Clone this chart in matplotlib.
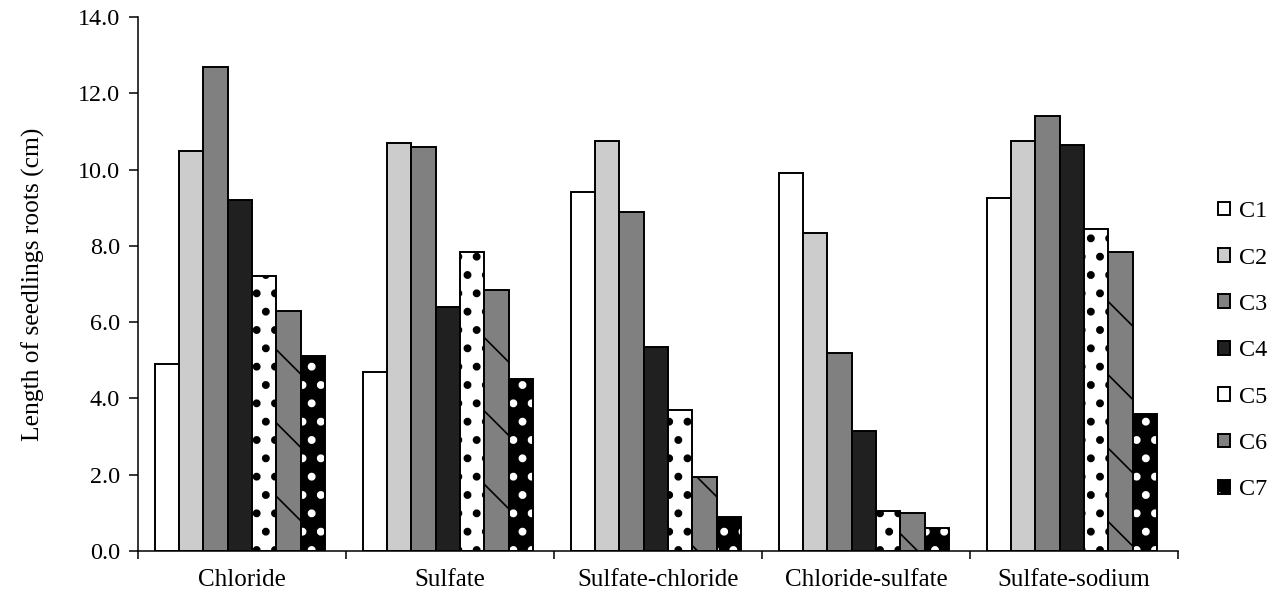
import matplotlib.pyplot as plt
import numpy as np
from matplotlib.patches import Patch

# root length values
groups = ['Chloride', 'Sulfate', 'Sulfate-chloride', 'Chloride-sulfate', 'Sulfate-sodium']
series = ['C1', 'C2', 'C3', 'C4', 'C5', 'C6', 'C7']
c1 = [4.9, 4.7, 9.4, 9.9, 9.25]
c2 = [10.5, 10.7, 10.75, 8.35, 10.75]
c3 = [12.7, 10.6, 8.9, 5.2, 11.4]
c4 = [9.2, 6.4, 5.35, 3.15, 10.65]
c5 = [7.2, 7.85, 3.7, 1.05, 8.45]
c6 = [6.3, 6.85, 1.95, 1.0, 7.85]
c7 = [5.1, 4.5, 0.9, 0.6, 3.6]
values = [c1, c2, c3, c4, c5, c6, c7]

# (face, hatch colour, hatch)
styles = [('white', 'black', ''), ('#cccccc', 'black', ''), ('#808080', 'black', ''),
          ('#202020', 'black', ''), ('white', 'black', '..'), ('#808080', 'black', '\\'),
          ('black', 'white', '..')]

# hatch spacing follows dpi, so dpi is picked to get the sparse patterns
dpi = 220
s = 200 / dpi

plt.rcParams['font.family'] = ['Liberation Serif', 'DejaVu Serif']
plt.rcParams['hatch.linewidth'] = 0.6 * s

fig = plt.figure(figsize=(1274 / dpi, 601 / dpi), dpi=dpi)
ax = fig.add_axes([138 / 1274, 1 - 551 / 601, 1040 / 1274, 534 / 601])


def dot_size(p, h):
    # bigger dots for the dotted series, if this matplotlib allows it
    if h == '..' and hasattr(p, 'set_hatch_linewidth'):
        p.set_hatch_linewidth(1.5 * s)


x = np.arange(len(groups))
w = 0.1168
lw = 0.7 * s
handles = []
for k, (vals, (fc, hc, h)) in enumerate(zip(values, styles)):
    pos = x + (k - 3) * w - 0.01
    bars = ax.bar(pos, vals, w, color=fc, edgecolor=hc, hatch=h, linewidth=0)
    for b in bars:
        dot_size(b, h)
    ax.bar(pos, vals, w, fill=False, edgecolor='black', linewidth=lw)
    hp = Patch(facecolor=fc, edgecolor=hc, hatch=h, linewidth=0)
    dot_size(hp, h)
    handles.append((hp, Patch(fill=False, edgecolor='black', linewidth=lw)))

ax.set_xlim(-0.5, 4.5)
ax.set_ylim(0, 14)
ax.set_yticks(np.arange(0, 14.1, 2))
ax.set_yticklabels([f'{v:.1f}' for v in np.arange(0, 14.1, 2)], fontsize=8.7 * s)
ax.set_xticks(x)
ax.set_xticklabels(groups, fontsize=9 * s)
ax.set_xticks(np.arange(-0.5, 4.6, 1), minor=True)
ax.tick_params(axis='x', which='major', length=0, pad=6.5 * s)
ax.tick_params(axis='x', which='minor', length=3 * s, width=0.55 * s, direction='out')
ax.tick_params(axis='y', length=3.4 * s, width=0.55 * s, pad=3 * s)
ax.spines['top'].set_visible(False)
ax.spines['right'].set_visible(False)
ax.spines['left'].set_linewidth(0.55 * s)
ax.spines['bottom'].set_linewidth(0.55 * s)
ax.set_ylabel('Length of seedlings roots (cm)', fontsize=9.2 * s, labelpad=12 * s)

ax.legend(handles, series, loc='center left', bbox_to_anchor=(1.038, 0.375), frameon=False,
          fontsize=8.7 * s, handlelength=0.5, handleheight=0.5, handletextpad=0.4,
          labelspacing=1.05, borderpad=0, borderaxespad=0)

fig.savefig('out.png', dpi=dpi)
